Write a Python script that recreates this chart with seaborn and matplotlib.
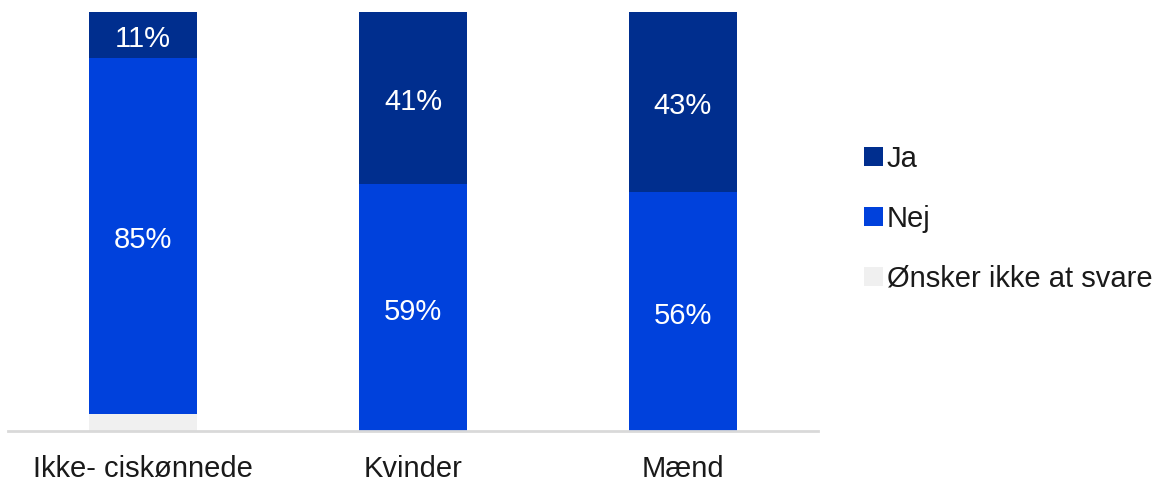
import matplotlib
matplotlib.use("Agg")
import matplotlib.pyplot as plt
from matplotlib.patches import Patch
import pandas as pd
import seaborn as sns

# data
groups = ["Ikke- ciskønnede", "Kvinder", "Mænd"]
ja = [11, 41, 43]
nej = [85, 59, 57]
ikke_svar = [4, 0, 0]
ja_labels = ["11%", "41%", "43%"]
nej_labels = ["85%", "59%", "56%"]

series_names = ["Ja", "Nej", "Ønsker ikke at svare"]
colors = {"Ja": "#002E8E", "Nej": "#0041DC", "Ønsker ikke at svare": "#F0F0F0"}

sns.set_theme(style="white")
plt.rcParams["font.family"] = ["Liberation Sans", "DejaVu Sans"]

df = pd.DataFrame({"Gruppe": groups, "Ja": ja, "Nej": nej, "Ønsker ikke at svare": ikke_svar})
# cumulative tops for stacking (bottom series is "Ønsker ikke at svare")
df["top_ikke"] = df["Ønsker ikke at svare"]
df["top_nej"] = df["top_ikke"] + df["Nej"]
df["top_ja"] = df["top_nej"] + df["Ja"]

fig = plt.figure(figsize=(11.61, 4.82), dpi=100)
ax = fig.add_axes([8 / 1161, 1 - 431 / 482, 810 / 1161, 419 / 482])

for col, name in [("top_ja", "Ja"), ("top_nej", "Nej"), ("top_ikke", "Ønsker ikke at svare")]:
    sns.barplot(data=df, x="Gruppe", y=col, color=colors[name], width=0.4,
                saturation=1, linewidth=0, ax=ax)

# value labels in the middle of each segment
for i in range(len(groups)):
    ax.text(i, df["top_ikke"][i] + nej[i] / 2 - 1, nej_labels[i], ha="center", va="center",
            color="white", fontsize=21)
    ax.text(i, df["top_nej"][i] + ja[i] / 2 - 1, ja_labels[i], ha="center", va="center",
            color="white", fontsize=21)

ax.set_xlim(-0.5, 2.5)
ax.set_ylim(0, 100)
ax.set(xlabel="", ylabel="")
ax.set_yticks([])
sns.despine(ax=ax, left=True, top=True, right=True)
ax.spines["bottom"].set_color("#D9D9D9")
ax.spines["bottom"].set_linewidth(2)
ax.tick_params(axis="x", length=0, labelsize=21, pad=17, colors="#1A1A1A")

handles = [Patch(facecolor=colors[n], edgecolor="none") for n in series_names]
fig.legend(handles, series_names, loc="upper left", bbox_to_anchor=(852 / 1161, 1 - 133 / 482),
           frameon=False, fontsize=21, handlelength=0.65, handleheight=0.65,
           handletextpad=0.15, labelspacing=1.1, labelcolor="#1A1A1A", borderaxespad=0)

fig.savefig("out.png", dpi=100)
